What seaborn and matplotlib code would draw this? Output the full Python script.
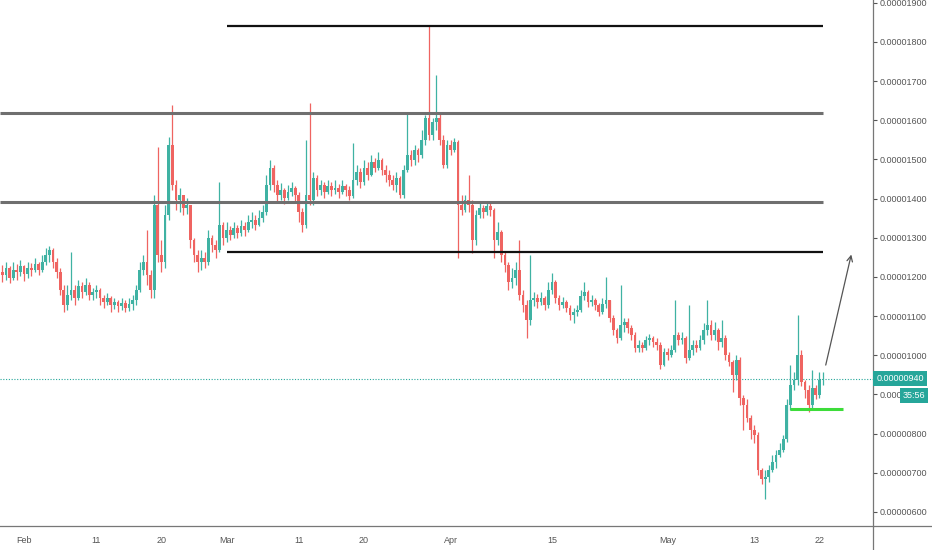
import numpy as np
import pandas as pd
import matplotlib
matplotlib.use("Agg")
import matplotlib.pyplot as plt
from matplotlib.lines import Line2D
import seaborn as sns

# prices in units of 1e-8
UNIT = 1e-8

close = [1206, 1223, 1198, 1218, 1213, 1228, 1208, 1223, 1218, 1234,
         1218, 1239, 1257, 1269, 1239, 1213, 1167, 1129, 1154, 1167,
         1147, 1177, 1162, 1180, 1154, 1162, 1167, 1147, 1137, 1147,
         1129, 1137, 1126, 1134, 1121, 1132, 1142, 1167, 1218, 1239,
         1206, 1167, 1384, 1257, 1239, 1359, 1537, 1435, 1397, 1410,
         1376, 1384, 1295, 1257, 1239, 1249, 1239, 1300, 1282, 1269,
         1333, 1300, 1320, 1308, 1325, 1313, 1330, 1320, 1341, 1346,
         1333, 1351, 1366, 1435, 1478, 1435, 1410, 1422, 1402, 1417,
         1427, 1410, 1366, 1333, 1410, 1397, 1453, 1422, 1435, 1417,
         1433, 1422, 1427, 1417, 1433, 1422, 1407, 1448, 1468, 1443,
         1478, 1461, 1494, 1478, 1499, 1473, 1461, 1448, 1435, 1453,
         1410, 1473, 1512, 1499, 1524, 1512, 1550, 1606, 1563, 1596,
         1606, 1550, 1486, 1537, 1524, 1545, 1384, 1371, 1397, 1384,
         1295, 1359, 1376, 1366, 1382, 1371, 1295, 1315, 1257, 1231,
         1188, 1198, 1218, 1154, 1129, 1091, 1142, 1147, 1137, 1147,
         1129, 1167, 1188, 1147, 1129, 1137, 1121, 1103, 1111, 1116,
         1152, 1162, 1137, 1142, 1129, 1111, 1132, 1142, 1096, 1065,
         1045, 1078, 1086, 1070, 1052, 1019, 1027, 1019, 1040, 1045,
         1035, 1027, 976, 1009, 1001, 1014, 1052, 1040, 1045, 994,
         1014, 1027, 1019, 1040, 1065, 1078, 1052, 1065, 1035, 1045,
         1001, 984, 950, 989, 892, 874, 841, 810, 797, 708,
         683, 688, 708, 728, 746, 759, 785, 874, 925, 938,
         1001, 932, 912, 874, 917, 899, 938, 940]

high = [1231, 1239, 1228, 1239, 1234, 1244, 1231, 1239, 1236, 1249,
        1239, 1257, 1274, 1280, 1274, 1249, 1223, 1180, 1180, 1264,
        1180, 1193, 1188, 1198, 1188, 1172, 1180, 1172, 1154, 1160,
        1152, 1147, 1142, 1147, 1142, 1147, 1154, 1180, 1239, 1257,
        1320, 1218, 1410, 1532, 1295, 1384, 1558, 1639, 1448, 1427,
        1410, 1402, 1384, 1300, 1269, 1269, 1264, 1320, 1308, 1295,
        1443, 1341, 1341, 1330, 1341, 1333, 1346, 1341, 1359, 1366,
        1359, 1371, 1384, 1461, 1499, 1486, 1448, 1440, 1427, 1435,
        1443, 1433, 1417, 1376, 1550, 1644, 1468, 1461, 1448, 1443,
        1448, 1443, 1448, 1438, 1448, 1438, 1433, 1542, 1486, 1478,
        1499, 1494, 1512, 1504, 1519, 1504, 1486, 1473, 1461, 1468,
        1458, 1486, 1619, 1524, 1537, 1529, 1575, 1614, 1843, 1606,
        1716, 1621, 1563, 1550, 1550, 1555, 1550, 1410, 1410, 1461,
        1397, 1371, 1389, 1384, 1389, 1392, 1376, 1341, 1320, 1264,
        1239, 1223, 1239, 1295, 1167, 1142, 1257, 1162, 1157, 1162,
        1152, 1188, 1211, 1193, 1154, 1149, 1142, 1129, 1121, 1129,
        1167, 1188, 1167, 1154, 1147, 1134, 1147, 1200, 1142, 1103,
        1070, 1180, 1096, 1096, 1078, 1060, 1040, 1035, 1050, 1055,
        1050, 1045, 1035, 1019, 1019, 1027, 1142, 1060, 1060, 1050,
        1129, 1040, 1040, 1052, 1083, 1142, 1091, 1086, 1070, 1091,
        1052, 1009, 989, 1001, 996, 899, 887, 848, 823, 805,
        713, 708, 721, 746, 759, 777, 797, 887, 976, 958,
        1103, 1014, 938, 925, 963, 925, 958, 958]

low = [1188, 1193, 1185, 1193, 1193, 1203, 1190, 1198, 1203, 1213,
       1206, 1213, 1231, 1239, 1223, 1198, 1154, 1111, 1116, 1142,
       1129, 1142, 1147, 1154, 1142, 1142, 1147, 1129, 1121, 1129,
       1111, 1119, 1111, 1116, 1111, 1114, 1116, 1129, 1162, 1206,
       1180, 1147, 1147, 1239, 1213, 1223, 1346, 1422, 1371, 1366,
       1359, 1361, 1274, 1239, 1213, 1218, 1223, 1231, 1264, 1249,
       1264, 1282, 1290, 1295, 1300, 1300, 1305, 1305, 1315, 1325,
       1320, 1330, 1341, 1359, 1422, 1417, 1392, 1397, 1387, 1397,
       1407, 1392, 1341, 1315, 1325, 1384, 1384, 1407, 1410, 1402,
       1412, 1407, 1412, 1402, 1412, 1407, 1397, 1402, 1435, 1427,
       1435, 1448, 1458, 1468, 1473, 1461, 1443, 1433, 1422, 1417,
       1402, 1402, 1468, 1484, 1486, 1494, 1504, 1537, 1550, 1550,
       1575, 1537, 1478, 1478, 1512, 1519, 1249, 1359, 1366, 1366,
       1262, 1282, 1351, 1351, 1359, 1356, 1249, 1282, 1239, 1213,
       1167, 1172, 1180, 1142, 1111, 1045, 1078, 1126, 1121, 1129,
       1116, 1121, 1157, 1134, 1116, 1121, 1111, 1091, 1083, 1101,
       1111, 1142, 1124, 1126, 1116, 1101, 1106, 1121, 1086, 1052,
       1032, 1040, 1060, 1058, 1040, 1007, 1009, 1009, 1014, 1027,
       1022, 1014, 966, 973, 989, 996, 1009, 1027, 1029, 981,
       989, 1001, 1009, 1014, 1029, 1052, 1040, 1040, 1014, 1022,
       989, 973, 907, 938, 874, 810, 830, 785, 777, 695,
       670, 632, 677, 703, 713, 739, 754, 779, 861, 912,
       925, 922, 892, 856, 866, 887, 892, 925]

first_open = 1213

tick_dates = ["2021-02-01", "2021-02-11", "2021-02-20", "2021-03-01", "2021-03-11",
              "2021-03-20", "2021-04-01", "2021-04-15", "2021-05-01", "2021-05-13",
              "2021-05-22"]
tick_labels = ["Feb", "11", "20", "Mar", "11", "20", "Apr", "15", "May", "13", "22"]
price_ticks = [600, 700, 800, 900, 1000, 1100, 1200, 1300, 1400, 1500, 1600, 1700, 1800, 1900]

level_long = [1619, 1392]      # grey, from left edge
level_short = [1841, 1264]     # black, from Mar 1
support = 864
last_price = 940
arrow_start = ("2021-05-22 19:00", 968)
arrow_end = ("2021-05-26 12:00", 1264)

df = pd.DataFrame({
    "time": pd.date_range("2021-01-29", periods=len(close), freq="12h"),
    "close": np.array(close) * UNIT,
    "high": np.array(high) * UNIT,
    "low": np.array(low) * UNIT,
})
df["open"] = df["close"].shift(1).fillna(first_open * UNIT)
df["high"] = np.maximum(df["high"], df[["open", "close"]].max(axis=1))
df["low"] = np.minimum(df["low"], df[["open", "close"]].min(axis=1))
up = df["close"] >= df["open"]
colors = np.where(up, "#3fb2a3", "#ef6461")

sns.set_style("white")
plt.rcParams["font.family"] = ["Liberation Sans", "DejaVu Sans"]

fig = plt.figure(figsize=(9.32, 5.5), dpi=100)
ax = fig.add_axes([0, 24 / 550, 873 / 932, 526 / 550])

ax.vlines(df["time"], df["low"], df["high"], colors=colors, lw=0.9, zorder=2)
body = (df["close"] - df["open"]).abs().clip(lower=0.6 * UNIT)
ax.bar(df["time"], body, bottom=df[["open", "close"]].min(axis=1),
       width=0.38, color=colors, lw=0, zorder=2)

t0 = pd.Timestamp("2021-01-28 16:00")
t_mar = pd.Timestamp("2021-03-01")
t_end = pd.Timestamp("2021-05-22 12:00")
for lv in level_long:
    ax.hlines(lv * UNIT, t0, t_end, color="#6f6f6f", lw=2.2, zorder=3)
for lv in level_short:
    ax.hlines(lv * UNIT, t_mar, t_end, color="#111111", lw=1.6, zorder=3)
ax.hlines(support * UNIT, pd.Timestamp("2021-05-17 22:00"), pd.Timestamp("2021-05-25 07:00"),
          color="#3ddc3a", lw=2.2, zorder=4)
ax.axhline(last_price * UNIT, color="#26a69a", ls=(0, (1, 1.5)), lw=0.8, zorder=1)
ax.annotate("", xy=(pd.Timestamp(arrow_end[0]), arrow_end[1] * UNIT),
            xytext=(pd.Timestamp(arrow_start[0]), arrow_start[1] * UNIT),
            arrowprops=dict(arrowstyle="->", color="#555555", lw=0.9), zorder=4)

ax.set_xlim(t0, pd.Timestamp("2021-05-29 10:00"))
ax.set_ylim(564 * UNIT, 1907 * UNIT)
ax.set_xticks(pd.to_datetime(tick_dates))
ax.set_xticklabels(tick_labels)
ax.set_yticks([p * UNIT for p in price_ticks])
ax.set_yticklabels([f"{p * UNIT:.8f}" for p in price_ticks])
ax.yaxis.tick_right()
ax.tick_params(axis="both", labelsize=6.5, colors="#555555", length=3, width=0.8,
               direction="out", pad=2)
ax.tick_params(axis="x", pad=4)
for side in ["left", "top"]:
    ax.spines[side].set_visible(False)
for side in ["right", "bottom"]:
    ax.spines[side].set_color("#777777")
    ax.spines[side].set_linewidth(0.9)

ytr = ax.get_yaxis_transform()
ax.text(1.004, last_price * UNIT, f"{last_price * UNIT:.8f}", transform=ytr,
        ha="left", va="center", fontsize=6.5, color="white", clip_on=False, zorder=6,
        bbox=dict(boxstyle="square,pad=0.35", fc="#26a69a", ec="none"))
ax.text(1.034, 897 * UNIT, "35:56", transform=ytr,
        ha="left", va="center", fontsize=6.5, color="white", clip_on=False, zorder=6,
        bbox=dict(boxstyle="square,pad=0.35", fc="#26a69a", ec="none"))

# axis lines running past the corner
fig.add_artist(Line2D([873 / 932, 1], [24 / 550, 24 / 550], color="#777777", lw=0.9))
fig.add_artist(Line2D([873 / 932, 873 / 932], [0, 24 / 550], color="#777777", lw=0.9))

fig.savefig("out.png", dpi=100)
